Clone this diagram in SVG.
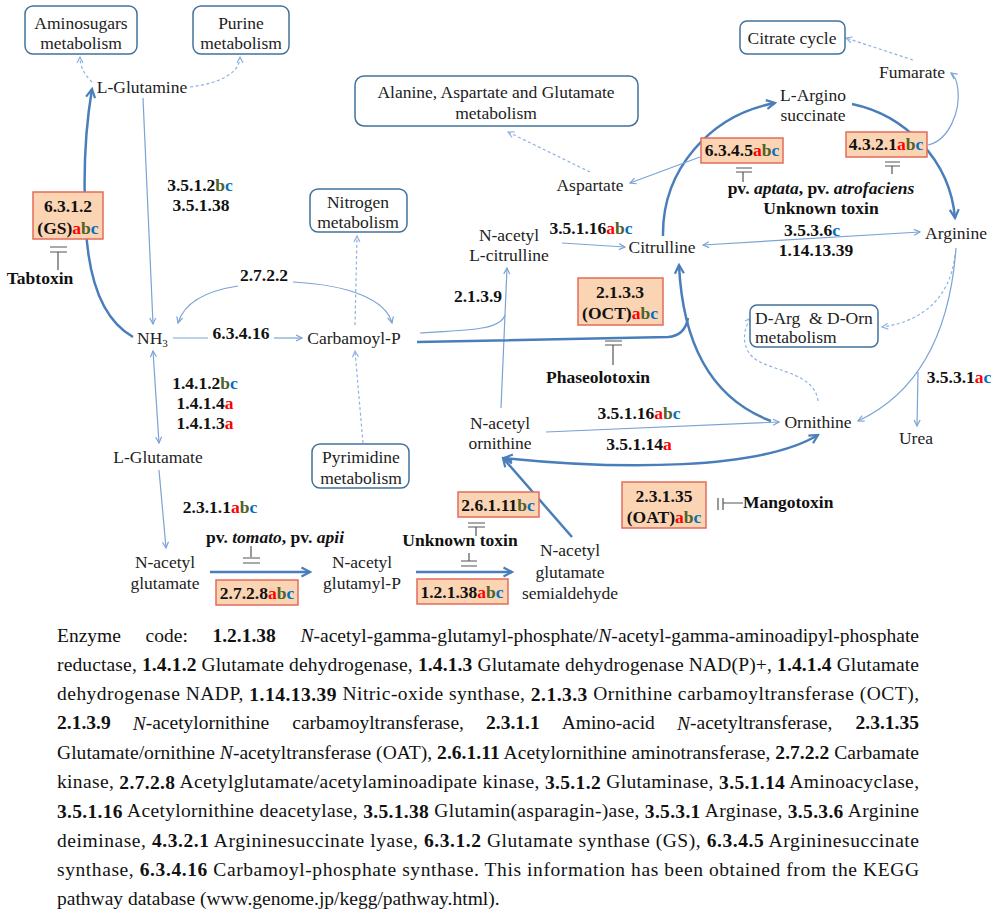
<svg xmlns="http://www.w3.org/2000/svg" width="1000" height="916" viewBox="0 0 1000 916">
<style>
text{font-family:"Liberation Serif","Times New Roman",serif;dominant-baseline:central}
.n{font-size:17.5px;fill:#222;text-anchor:middle}
.e{font-size:17.5px;fill:#111;text-anchor:middle;font-weight:bold}
.st{text-anchor:start}
.ra{fill:#ff0000}.gb{fill:#4f6228}.bc{fill:#0070c0}
.i{font-style:italic}
.b{font-weight:bold}
.box{fill:#fff;stroke:#41719c;stroke-width:1.5}
.ebox{fill:#fbd4b4;stroke:#e46c5a;stroke-width:1.5}
.thk{fill:none;stroke:#4a7ebb;stroke-width:2.5}
.thn{fill:none;stroke:#7ba3d4;stroke-width:1.2}
.dsh{fill:none;stroke:#8db3e2;stroke-width:1.2;stroke-dasharray:3 2.5}
.inh{fill:none;stroke:#555;stroke-width:1.2}
.cap{font-size:19.5px;fill:#111}
</style>
<defs>
<marker id="at" viewBox="0 0 8 8" refX="7" refY="4" markerWidth="8" markerHeight="8" markerUnits="userSpaceOnUse" orient="auto-start-reverse"><path d="M1,1 L7,4 L1,7" fill="none" stroke="#7ba3d4" stroke-width="1.2"/></marker>
<marker id="ad" viewBox="0 0 8 8" refX="7" refY="4" markerWidth="8" markerHeight="8" markerUnits="userSpaceOnUse" orient="auto-start-reverse"><path d="M1,1 L7,4 L1,7" fill="none" stroke="#8db3e2" stroke-width="1.2"/></marker>
<marker id="ak" viewBox="0 0 12 12" refX="10" refY="6" markerWidth="12" markerHeight="12" markerUnits="userSpaceOnUse" orient="auto-start-reverse"><path d="M1.5,1.5 L10,6 L1.5,10.5" fill="none" stroke="#4a7ebb" stroke-width="2.2"/></marker>
</defs>

<g id="connectors">
<path class="dsh" d="M92 82 C86 76 80 68 80 57" marker-end="url(#ad)"/>
<path class="dsh" d="M190 87 C222 83 240 72 240 57" marker-end="url(#ad)"/>
<path class="thk" d="M133 337 C103 320 89 280 86 230 C83 180 85 130 92 89" marker-end="url(#ak)"/>
<path class="thn" d="M143 98 L153 324" marker-end="url(#at)"/>
<path class="thn" d="M238 286 C205 291 184 303 178 323" marker-end="url(#at)"/>
<path class="thn" d="M293 282 C350 285 386 300 392 323" marker-end="url(#at)"/>
<path class="thn" d="M173 338 L208 338"/>
<path class="thn" d="M274 338 L302 338" marker-end="url(#at)"/>
<path class="dsh" d="M355 325 L357 236" marker-end="url(#ad)"/>
<path class="dsh" d="M363 443 L355 351" marker-end="url(#ad)"/>
<path class="thn" d="M153 351 L159 443" marker-start="url(#at)" marker-end="url(#at)"/>
<path class="thn" d="M159 470 L166 548" marker-end="url(#at)"/>
<path class="thk" d="M210 572 L310 572" marker-end="url(#ak)"/>
<path class="thk" d="M416 572 L512 572" marker-end="url(#ak)"/>
<path class="thk" d="M572 537 L503 458" marker-end="url(#ak)"/>
<path class="thk" d="M818 435 C760 470 620 470 504 458" marker-start="url(#ak)" marker-end="url(#ak)"/>
<path class="thn" d="M546 432 L779 422" marker-end="url(#at)"/>
<path class="thn" d="M501 408 L507 268" marker-end="url(#at)"/>
<path class="thn" d="M420 333 C470 330 500 330 505 315"/>
<path class="thk" d="M417 342 L668 337 C680 336 686 330 688 318"/>
<path class="thk" d="M771 421 C715 400 683 350 679 265" marker-end="url(#ak)"/>
<path class="thn" d="M562 243 L625 247" marker-end="url(#at)"/>
<path class="thn" d="M703 245 L920 232" marker-start="url(#at)" marker-end="url(#at)"/>
<path class="thk" d="M663 236 C662 170 710 115 775 103" marker-end="url(#ak)"/>
<path class="thk" d="M852 104 C905 115 950 160 955 218" marker-end="url(#ak)"/>
<path class="thn" d="M700 157 L630 183" marker-end="url(#at)"/>
<path class="dsh" d="M590 172 L508 132" marker-end="url(#ad)"/>
<path class="dsh" d="M913 60 L846 38" marker-end="url(#ad)"/>
<path class="thn" d="M928 145 C950 140 960 110 958 90 C957 80 955 76 951 73" marker-end="url(#at)"/>
<path class="dsh" d="M955 255 C950 300 920 322 882 327" marker-end="url(#ad)"/>
<path class="dsh" d="M818 401 C815 375 780 372 760 362 C740 352 742 330 751 318" marker-end="url(#ad)"/>
<path class="thn" d="M956 248 C950 330 920 392 858 421" marker-end="url(#at)"/>
<path class="thn" d="M918 372 L917 426" marker-end="url(#at)"/>
</g>

<g id="inhibitors">
<path class="inh" d="M50 247 L67 247 M50 252 L67 252 M58 252 L58 270"/>
<path class="inh" d="M251 546 L251 557 M243 558 L260 558 M243 563 L260 563"/>
<path class="inh" d="M468 523 L485 523 M468 527 L485 527 M476 527 L476 536"/>
<path class="inh" d="M469 553 L469 561 M461 561 L477 561 M461 566 L477 566"/>
<path class="inh" d="M605 341 L622 341 M605 345 L622 345 M613 345 L613 365"/>
<path class="inh" d="M736 168 L752 168 M736 172 L752 172 M743 172 L743 182"/>
<path class="inh" d="M885 162 L900 162 M885 166 L900 166 M892 166 L892 174"/>
<path class="inh" d="M718 498 L718 510 M723 498 L723 510 M723 503 L743 503"/>
</g>

<g id="aminosugars"><rect class="box" x="25" y="6" width="112" height="48" rx="8"/><text class="n" x="81" y="23">Aminosugars</text><text class="n" x="81" y="43">metabolism</text></g>
<g id="purine"><rect class="box" x="193" y="6" width="96" height="48" rx="8"/><text class="n" x="241" y="23">Purine</text><text class="n" x="241" y="43">metabolism</text></g>
<g id="l-glutamine"><text class="n" x="142" y="87">L-Glutamine</text></g>
<g id="nh3"><text class="n st" x="137" y="338">NH<tspan font-size="11" dy="5">3</tspan></text></g>
<g id="carbamoyl-p"><text class="n" x="354" y="338">Carbamoyl-P</text></g>
<g id="nitrogen"><rect class="box" x="310" y="189" width="97" height="43" rx="8"/><text class="n" x="358" y="202">Nitrogen</text><text class="n" x="358" y="222">metabolism</text></g>
<g id="pyrimidine"><rect class="box" x="312" y="444" width="97" height="44" rx="8"/><text class="n" x="361" y="457">Pyrimidine</text><text class="n" x="361" y="478">metabolism</text></g>
<g id="l-glutamate"><text class="n" x="158" y="457">L-Glutamate</text></g>
<g id="n-acetyl-glutamate"><text class="n" x="165" y="562">N-acetyl</text><text class="n" x="165" y="583">glutamate</text></g>
<g id="n-acetyl-glutamyl-p"><text class="n" x="362" y="562">N-acetyl</text><text class="n" x="362" y="583">glutamyl-P</text></g>
<g id="semialdehyde"><text class="n" x="570" y="550">N-acetyl</text><text class="n" x="570" y="572">glutamate</text><text class="n" x="570" y="593">semialdehyde</text></g>
<g id="n-acetyl-ornithine"><text class="n" x="500" y="423">N-acetyl</text><text class="n" x="500" y="443">ornithine</text></g>
<g id="n-acetyl-citrulline"><text class="n" x="509" y="235">N-acetyl</text><text class="n" x="509" y="255">L-citrulline</text></g>
<g id="alanine"><rect class="box" x="355" y="76" width="283" height="50" rx="9"/><text class="n" x="496" y="92">Alanine, Aspartate and Glutamate</text><text class="n" x="496" y="113">metabolism</text></g>
<g id="aspartate"><text class="n" x="590" y="185">Aspartate</text></g>
<g id="citrulline"><text class="n" x="662" y="247">Citrulline</text></g>
<g id="argininosuccinate"><text class="n" x="813" y="95">L-Argino</text><text class="n" x="813" y="115">succinate</text></g>
<g id="citrate"><rect class="box" x="740" y="21" width="105" height="33" rx="7"/><text class="n" x="792" y="38">Citrate cycle</text></g>
<g id="fumarate"><text class="n" x="912" y="72">Fumarate</text></g>
<g id="arginine"><text class="n" x="956" y="233">Arginine</text></g>
<g id="d-arg"><rect class="box" x="750" y="305" width="128" height="42" rx="7"/><text class="n st" x="755" y="318" xml:space="preserve">D-Arg  &amp; D-Orn</text><text class="n st" x="755" y="337">metabolism</text></g>
<g id="ornithine"><text class="n" x="818" y="422">Ornithine</text></g>
<g id="urea"><text class="n" x="916" y="438">Urea</text></g>

<g id="e6312"><rect class="ebox" x="33" y="192" width="70" height="47"/><text class="e" x="68" y="206">6.3.1.2</text><text class="e" x="68" y="228">(GS)<tspan class="ra">a</tspan><tspan class="gb">b</tspan><tspan class="bc">c</tspan></text></g>
<g id="tabtoxin"><text class="e" x="40" y="278">Tabtoxin</text></g>
<g id="e3512"><text class="e" x="200" y="185">3.5.1.2<tspan class="gb">b</tspan><tspan class="bc">c</tspan></text><text class="e" x="201" y="205">3.5.1.38</text></g>
<g id="e2722"><text class="e" x="264" y="275">2.7.2.2</text></g>
<g id="e63416"><text class="e" x="241" y="333">6.3.4.16</text></g>
<g id="e1412"><text class="e" x="205" y="383">1.4.1.2<tspan class="gb">b</tspan><tspan class="bc">c</tspan></text><text class="e" x="205" y="403">1.4.1.4<tspan class="ra">a</tspan></text><text class="e" x="205" y="423">1.4.1.3<tspan class="ra">a</tspan></text></g>
<g id="e2311"><text class="e" x="220" y="507">2.3.1.1<tspan class="ra">a</tspan><tspan class="gb">b</tspan><tspan class="bc">c</tspan></text></g>
<g id="tomato"><text class="e" x="275" y="537">pv. <tspan class="i">tomato</tspan>, pv. <tspan class="i">apii</tspan></text></g>
<g id="e2728"><rect class="ebox" x="216" y="580" width="82" height="25"/><text class="e" x="257" y="593">2.7.2.8<tspan class="ra">a</tspan><tspan class="gb">b</tspan><tspan class="bc">c</tspan></text></g>
<g id="unknown1"><text class="e" x="460" y="540">Unknown toxin</text></g>
<g id="e26111"><rect class="ebox" x="458" y="492" width="81" height="25"/><text class="e" x="498" y="505">2.6.1.11<tspan class="gb">b</tspan><tspan class="bc">c</tspan></text></g>
<g id="e12138"><rect class="ebox" x="417" y="579" width="91" height="25"/><text class="e" x="462" y="592">1.2.1.38<tspan class="ra">a</tspan><tspan class="gb">b</tspan><tspan class="bc">c</tspan></text></g>
<g id="e2139"><text class="e" x="478" y="296">2.1.3.9</text></g>
<g id="e2133"><rect class="ebox" x="578" y="278" width="85" height="47"/><text class="e" x="620" y="292">2.1.3.3</text><text class="e" x="620" y="313">(OCT)<tspan class="ra">a</tspan><tspan class="gb">b</tspan><tspan class="bc">c</tspan></text></g>
<g id="phaseolotoxin"><text class="e" x="598" y="377">Phaseolotoxin</text></g>
<g id="e35116a"><text class="e" x="591" y="228">3.5.1.16<tspan class="ra">a</tspan><tspan class="gb">b</tspan><tspan class="bc">c</tspan></text></g>
<g id="e35116b"><text class="e" x="639" y="413">3.5.1.16<tspan class="ra">a</tspan><tspan class="gb">b</tspan><tspan class="bc">c</tspan></text></g>
<g id="e35114"><text class="e" x="639" y="444">3.5.1.14<tspan class="ra">a</tspan></text></g>
<g id="e23135"><rect class="ebox" x="622" y="482" width="84" height="46"/><text class="e" x="664" y="496">2.3.1.35</text><text class="e" x="664" y="517">(OAT)<tspan class="ra">a</tspan><tspan class="gb">b</tspan><tspan class="bc">c</tspan></text></g>
<g id="mangotoxin"><text class="e st" x="743" y="502">Mangotoxin</text></g>
<g id="e6345"><rect class="ebox" x="701" y="138" width="82" height="25"/><text class="e" x="742" y="150">6.3.4.5<tspan class="ra">a</tspan><tspan class="gb">b</tspan><tspan class="bc">c</tspan></text></g>
<g id="e4321"><rect class="ebox" x="846" y="132" width="81" height="25"/><text class="e" x="886" y="144">4.3.2.1<tspan class="ra">a</tspan><tspan class="gb">b</tspan><tspan class="bc">c</tspan></text></g>
<g id="aptata"><text class="e" x="821" y="188">pv. <tspan class="i">aptata</tspan>, pv. <tspan class="i">atrofaciens</tspan></text><text class="e" x="821" y="208">Unknown toxin</text></g>
<g id="e3536"><text class="e" x="812" y="230">3.5.3.6<tspan class="bc">c</tspan></text><text class="e" x="816" y="250">1.14.13.39</text></g>
<g id="e3531"><text class="e" x="959" y="377">3.5.3.1<tspan class="ra">a</tspan><tspan class="bc">c</tspan></text></g>

<g id="caption" class="cap">
<text class="cap" x="57" y="635">Enzyme</text>
<text class="cap" x="145.6" y="635">code:</text>
<text class="cap b" x="212.4" y="635">1.2.1.38</text>
<text class="cap" x="300.4" y="635" textLength="618.6" lengthAdjust="spacing"><tspan class="i">N</tspan>-acetyl-gamma-glutamyl-phosphate/<tspan class="i">N</tspan>-acetyl-gamma-aminoadipyl-phosphate</text>
<text class="cap" x="57" y="664.3" textLength="862" lengthAdjust="spacing">reductase, <tspan class="b">1.4.1.2</tspan> Glutamate dehydrogenase, <tspan class="b">1.4.1.3</tspan> Glutamate dehydrogenase NAD(P)+, <tspan class="b">1.4.1.4</tspan> Glutamate</text>
<text class="cap" x="57" y="693.6" textLength="862" lengthAdjust="spacing">dehydrogenase NADP, <tspan class="b">1.14.13.39</tspan> Nitric-oxide synthase, <tspan class="b">2.1.3.3</tspan> Ornithine carbamoyltransferase (OCT),</text>
<text class="cap b" x="57" y="722.9">2.1.3.9</text>
<text class="cap" x="132.7" y="722.9"><tspan class="i">N</tspan>-acetylornithine</text>
<text class="cap" x="292.3" y="722.9">carbamoyltransferase,</text>
<text class="cap b" x="486" y="722.9">2.3.1.1</text>
<text class="cap" x="561.7" y="722.9">Amino-acid</text>
<text class="cap" x="677" y="722.9"><tspan class="i">N</tspan>-acetyltransferase,</text>
<text class="cap b" x="855.6" y="722.9">2.3.1.35</text>
<text class="cap" x="57" y="752.2" textLength="862" lengthAdjust="spacing">Glutamate/ornithine <tspan class="i">N</tspan>-acetyltransferase (OAT), <tspan class="b">2.6.1.11</tspan> Acetylornithine aminotransferase, <tspan class="b">2.7.2.2</tspan> Carbamate</text>
<text class="cap" x="57" y="781.5" textLength="862" lengthAdjust="spacing">kinase, <tspan class="b">2.7.2.8</tspan> Acetylglutamate/acetylaminoadipate kinase, <tspan class="b">3.5.1.2</tspan> Glutaminase, <tspan class="b">3.5.1.14</tspan> Aminoacyclase,</text>
<text class="cap" x="57" y="810.8" textLength="862" lengthAdjust="spacing"><tspan class="b">3.5.1.16</tspan> Acetylornithine deacetylase, <tspan class="b">3.5.1.38</tspan> Glutamin(asparagin-)ase, <tspan class="b">3.5.3.1</tspan> Arginase, <tspan class="b">3.5.3.6</tspan> Arginine</text>
<text class="cap" x="57" y="840.1" textLength="862" lengthAdjust="spacing">deiminase, <tspan class="b">4.3.2.1</tspan> Argininesuccinate lyase, <tspan class="b">6.3.1.2</tspan> Glutamate synthase (GS), <tspan class="b">6.3.4.5</tspan> Argininesuccinate</text>
<text class="cap" x="57" y="869.4" textLength="862" lengthAdjust="spacing">synthase, <tspan class="b">6.3.4.16</tspan> Carbamoyl-phosphate synthase. This information has been obtained from the KEGG</text>
<text class="cap" x="57" y="898.7">pathway database (www.genome.jp/kegg/pathway.html).</text>
</g>
</svg>
